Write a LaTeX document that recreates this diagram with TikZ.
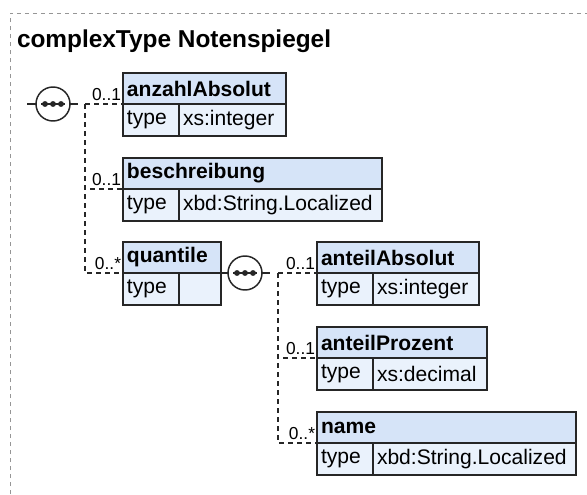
\documentclass[tikz,border=0pt]{standalone}
\usepackage{fontspec}
\setmainfont{Liberation Sans}

\definecolor{hdrblue}{RGB}{214,228,248}
\definecolor{cellblue}{RGB}{234,242,252}
\definecolor{framegray}{RGB}{150,150,150}

\begin{document}
\begin{tikzpicture}[x=0.75pt, y=-0.75pt,
  every node/.style={inner sep=3pt, outer sep=0pt},
  hdr/.style={draw=black!85, fill=hdrblue, line width=1pt, anchor=north west, minimum height=23.25pt, align=left, font=\fontsize{15.8}{18}\selectfont\bfseries},
  cell/.style={draw=black!85, fill=cellblue, line width=1pt, anchor=north west, minimum height=24pt, align=left, font=\fontsize{15.8}{18}\selectfont},
  lbl/.style={anchor=base east, inner sep=0pt, font=\fontsize{13}{15}\selectfont},
  seq/.style={circle, draw=black!85, fill=white, line width=1.1pt, minimum size=25.5pt, inner sep=0pt},
  stub/.style={draw=black!85, line width=1pt},
  conn/.style={draw=black!85, line width=1pt, dash pattern=on 3.75pt off 3pt}]
                \useasboundingbox (0,0) rectangle (587,494);
                \draw[framegray, line width=0.75pt, dash pattern=on 3pt off 3pt] (10,494) -- (10,13) -- (587,13);
                \node[anchor=base west, inner sep=0pt, font=\fontsize{18.3}{21}\selectfont\bfseries] (title) at (17,47) {complexType Notenspiegel};
                % first sequence
                \node[seq] (s1) at (53,104) {};
                \draw[black!85, line width=1.5pt] ([xshift=-9pt]s1.center) -- ([xshift=9pt]s1.center);
                \foreach \d in {-6,0,6} \fill[black!85] ([xshift=\d pt]s1.center) circle (2.2pt);
                \coordinate (in1) at (27,104);
                \coordinate (out1) at (78,104);
                \coordinate (br1) at (85,104);
                \draw[stub] (in1) -- (s1);
                \draw[stub] (s1) -- (out1);
                % elements of the first sequence
                \node[hdr, text width=116.25pt] (aa) at (123,73) {anzahlAbsolut};
                \node[cell, text width=36pt] (aat) at (aa.south west) {type};
                \node[cell, text width=74.25pt] (aav) at (aat.north east) {xs:integer};
                \node[hdr, text width=188.25pt] (bs) at (123,158) {beschreibung};
                \node[cell, text width=36pt] (bst) at (bs.south west) {type};
                \node[cell, text width=146.25pt] (bsv) at (bst.north east) {xbd:String.Localized};
                \node[hdr, text width=67.5pt] (qu) at (123,242) {quantile};
                \node[cell, text width=36pt] (qut) at (qu.south west) {type};
                \node[cell, text width=25.5pt] (quv) at (qut.north east) {};
                \draw[conn] (br1) -- (aa.south west);
                \draw[conn] (br1) |- (bs.south west);
                \draw[conn] (br1) |- (qu.south west);
                \node[lbl] (l1) at ([xshift=-1.5pt, yshift=2.5pt]aa.south west) {0..1};
                \node[lbl] (l2) at ([xshift=-1.5pt, yshift=2.5pt]bs.south west) {0..1};
                \node[lbl] (l3) at ([xshift=-1.5pt, yshift=2.5pt]qu.south west) {0..*};
                % second sequence
                \node[seq] (s2) at (245,273) {};
                \draw[black!85, line width=1.5pt] ([xshift=-9pt]s2.center) -- ([xshift=9pt]s2.center);
                \foreach \d in {-6,0,6} \fill[black!85] ([xshift=\d pt]s2.center) circle (2.2pt);
                \coordinate (out2) at (270,273);
                \coordinate (br2) at (278,273);
                \draw[stub] (qu.south east) -- (s2);
                \draw[stub] (s2) -- (out2);
                % elements of quantile
                \node[hdr, text width=115.5pt] (ab) at (317,242) {anteilAbsolut};
                \node[cell, text width=36pt] (abt) at (ab.south west) {type};
                \node[cell, text width=73.5pt] (abv) at (abt.north east) {xs:integer};
                \node[hdr, text width=121.5pt] (ap) at (317,327) {anteilProzent};
                \node[cell, text width=36pt] (apt) at (ap.south west) {type};
                \node[cell, text width=79.5pt] (apv) at (apt.north east) {xs:decimal};
                \node[hdr, text width=188.25pt] (nm) at (317,412) {name};
                \node[cell, text width=36pt] (nmt) at (nm.south west) {type};
                \node[cell, text width=146.25pt] (nmv) at (nmt.north east) {xbd:String.Localized};
                \draw[conn] (br2) -- (ab.south west);
                \draw[conn] (br2) |- (ap.south west);
                \draw[conn] (br2) |- (nm.south west);
                \node[lbl] (l4) at ([xshift=-1.5pt, yshift=2.5pt]ab.south west) {0..1};
                \node[lbl] (l5) at ([xshift=-1.5pt, yshift=2.5pt]ap.south west) {0..1};
                \node[lbl] (l6) at ([xshift=-1.5pt, yshift=2.5pt]nm.south west) {0..*};
                \end{tikzpicture}
\end{document}
